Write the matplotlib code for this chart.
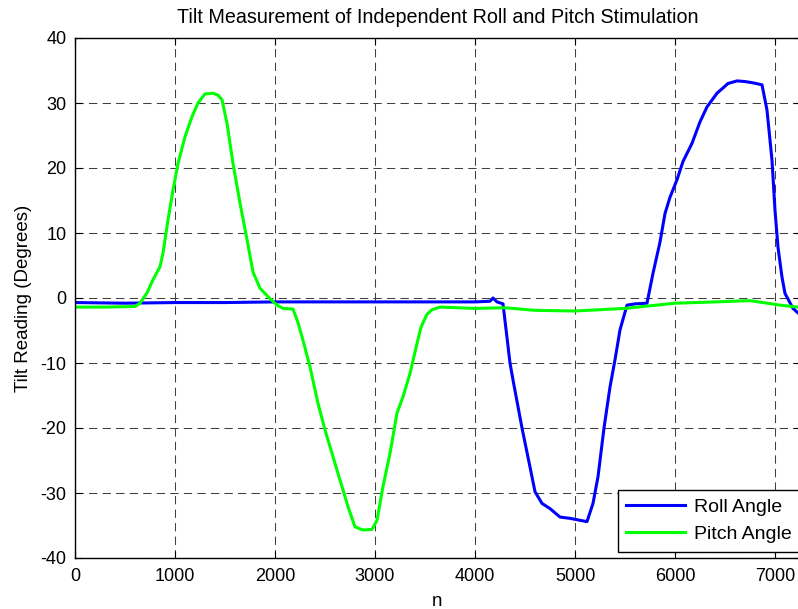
import matplotlib
matplotlib.use("Agg")
import matplotlib.pyplot as plt
import numpy as np

plt.rcParams['font.family'] = ['Liberation Sans', 'DejaVu Sans']

title = "Tilt Measurement of Independent Roll and Pitch Stimulation"
xlabel = "n"
ylabel = "Tilt Reading (Degrees)"
series_names = ["Roll Angle", "Pitch Angle"]

roll_n = [0, 500, 1000, 1500, 2000, 2500, 3000, 3500, 4000, 4150, 4180, 4220, 4280,
          4350, 4380, 4470, 4550, 4600, 4670, 4750, 4850, 4950, 5050, 5120, 5180,
          5230, 5290, 5350, 5400, 5450, 5520, 5600, 5720, 5780, 5850, 5900, 5950,
          6020, 6080, 6170, 6250, 6320, 6420, 6530, 6620, 6700, 6780, 6870, 6920,
          6970, 7000, 7030, 7070, 7100, 7180, 7230]
roll_v = [-0.7, -0.8, -0.7, -0.7, -0.6, -0.6, -0.6, -0.6, -0.6, -0.5, 0.0, -0.6, -0.9,
          -10.0, -12.6, -20.0, -26.0, -29.8, -31.6, -32.4, -33.7, -33.9, -34.2, -34.4, -31.6,
          -27.5, -20.0, -13.7, -9.5, -4.9, -1.1, -0.9, -0.8, 3.8, 8.6, 13.0, 15.5,
          18.2, 21.0, 23.8, 27.1, 29.4, 31.5, 33.0, 33.4, 33.3, 33.1, 32.8, 28.9,
          21.2, 13.5, 7.8, 3.2, 0.7, -1.6, -2.3]

pitch_n = [0, 300, 600, 650, 720, 780, 850, 880, 930, 980, 1030, 1100, 1170, 1230,
           1300, 1380, 1430, 1470, 1520, 1580, 1650, 1720, 1780, 1850, 1930, 2020,
           2080, 2180, 2230, 2280, 2350, 2430, 2500, 2570, 2650, 2730, 2800, 2880,
           2970, 3020, 3080, 3150, 3220, 3280, 3350, 3420, 3460, 3520, 3570, 3650,
           4000, 4300, 4600, 5000, 5500, 6000, 6400, 6750, 7050, 7230]
pitch_v = [-1.4, -1.4, -1.3, -0.8, 0.8, 2.8, 4.8, 6.9, 12.0, 16.6, 20.7, 24.8, 27.9, 30.0,
           31.4, 31.5, 31.2, 30.5, 26.9, 20.7, 14.6, 9.0, 4.0, 1.5, 0.2, -1.1,
           -1.6, -1.7, -3.8, -6.5, -10.6, -16.2, -20.3, -23.9, -28.0, -32.1, -35.2, -35.7,
           -35.6, -34.2, -29.0, -23.9, -17.7, -15.2, -11.6, -7.0, -4.5, -2.5, -1.8, -1.4,
           -1.6, -1.5, -1.9, -2.0, -1.6, -0.8, -0.6, -0.4, -1.1, -1.4]

xticks = [0, 1000, 2000, 3000, 4000, 5000, 6000, 7000]
yticks = [-40, -30, -20, -10, 0, 10, 20, 30, 40]

W, H = 798, 609
fig = plt.figure(figsize=(W / 100, H / 100), dpi=100)
ax = fig.add_axes([75 / W, (H - 558) / H, (800 - 75) / W, (558 - 38) / H])

ax.plot(roll_n, roll_v, color=(0, 0, 1), lw=2.2, label=series_names[0])
ax.plot(pitch_n, pitch_v, color=(0, 1, 0), lw=2.2, label=series_names[1])

ax.set_xlim(0, 7250)
ax.set_ylim(-40, 40)
ax.set_xticks(xticks)
ax.set_yticks(yticks)
ax.set_xticklabels([str(t) for t in xticks])
ax.set_yticklabels([str(t) for t in yticks])
ax.tick_params(direction='in', length=5, width=0.8, labelsize=13, top=True, right=True,
               color='black')
ax.tick_params(axis='x', pad=7)
ax.tick_params(axis='y', pad=6)
ax.grid(True, color='0.25', linestyle=(0, (8, 5)), linewidth=0.75)
ax.set_axisbelow(True)
for s in ax.spines.values():
    s.set_linewidth(1.0)
    s.set_color('black')

ax.set_title(title, fontsize=14.2, pad=11)
ax.set_xlabel(xlabel, fontsize=13.5, labelpad=6)
ax.set_ylabel(ylabel, fontsize=13.5, labelpad=6)

leg = ax.legend(loc='lower right', fontsize=14, frameon=True, fancybox=False,
                bbox_to_anchor=(800 / W, (H - 552) / H), bbox_transform=fig.transFigure,
                handlelength=3.0, handletextpad=0.45, borderaxespad=0.0,
                labelspacing=0.5, borderpad=0.45)
leg.get_frame().set_edgecolor('black')
leg.get_frame().set_linewidth(1.0)
leg.get_frame().set_alpha(1.0)

fig.savefig("out.png", dpi=100)
